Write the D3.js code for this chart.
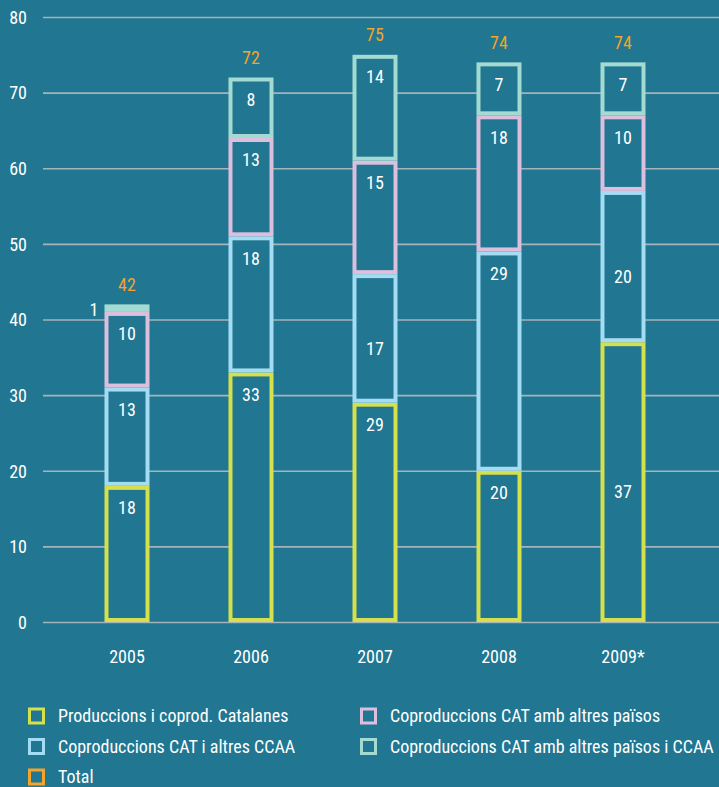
<!DOCTYPE html>
<html>
<head>
<meta charset="utf-8">
<script src="https://cdn.jsdelivr.net/npm/d3@7"></script>
<style>
  html, body { margin: 0; padding: 0; background: #217691; }
  svg { display: block; }
  text { font-family: "Liberation Sans Narrow", "Arial Narrow", "Roboto Condensed", "Liberation Sans", sans-serif; }
</style>
</head>
<body>
<svg id="chart" width="719" height="787"></svg>
<script>
// ---- data ----
const years = ["2005", "2006", "2007", "2008", "2009*"];
const catalanes = [18, 33, 29, 20, 37];
const ccaa = [13, 18, 17, 29, 20];
const paisos = [10, 13, 15, 18, 10];
const paisosCcaa = [1, 8, 14, 7, 7];
const totals = [42, 72, 75, 74, 74];
const yTicks = [0, 10, 20, 30, 40, 50, 60, 70, 80];
const seriesNames = ["Produccions i coprod. Catalanes", "Coproduccions CAT i altres CCAA",
  "Coproduccions CAT amb altres països", "Coproduccions CAT amb altres països i CCAA"];
const totalName = "Total";
// label placement style per series/year ("top", "mid", "left")
const labelPlace = [
  ["top", "top", "top", "top", "mid"],
  ["top", "top", "mid", "top", "mid"],
  ["top", "top", "top", "top", "top"],
  ["left", "top", "top", "top", "top"]
];

const bg = "#217691";
const colors = ["#d5e04c", "#a3dcf3", "#dcbfdc", "#a3dad1"];
const totalColor = "#f3a42a";

const svg = d3.select("#chart");
svg.append("rect").attr("width", 719).attr("height", 787).attr("fill", bg);

const x = d3.scaleBand().domain(years).range([65, 685]).paddingInner(0.637).paddingOuter(0.3185);
const y = d3.scaleLinear().domain([0, 80]).range([622, 17]);

// gridlines + tick labels
const yAxis = d3.axisLeft(y).tickValues(yTicks).tickSize(-676).tickPadding(16);
const gAxis = svg.append("g").attr("transform", "translate(43,0)").call(yAxis);
gAxis.select(".domain").remove();
gAxis.selectAll(".tick line").attr("stroke", "#a4b4ba").attr("stroke-width", 1.6);
gAxis.selectAll(".tick text").attr("fill", "#ffffff").attr("font-size", 18)
  .attr("x", -16).attr("dy", "0.35em");

// x axis labels
const xAxis = d3.axisBottom(x).tickSize(0).tickPadding(0);
const gx = svg.append("g").attr("transform", "translate(0,657)").call(xAxis);
gx.select(".domain").remove();
gx.selectAll(".tick text").attr("fill", "#ffffff").attr("font-size", 18).attr("dy", "0.35em");

// stacked data
const rows = years.map((yr, i) => ({ year: yr, s0: catalanes[i], s1: ccaa[i], s2: paisos[i], s3: paisosCcaa[i] }));
const stack = d3.stack().keys(["s0", "s1", "s2", "s3"])(rows);

const sw = 4;
stack.forEach((layer, li) => {
  const g = svg.append("g");
  layer.forEach((d, i) => {
    const x0 = x(years[i]);
    const w = x.bandwidth();
    const top = y(d[1]);
    const bot = y(d[0]);
    g.append("rect")
      .attr("x", x0 + sw / 2).attr("y", top + sw / 2)
      .attr("width", w - sw).attr("height", Math.max(0, bot - top - sw))
      .attr("fill", bg).attr("stroke", colors[li]).attr("stroke-width", sw);
    const val = d[1] - d[0];
    const place = labelPlace[li][i];
    const t = g.append("text").attr("fill", "#ffffff").attr("font-size", 18).text(val);
    if (place === "left") {
      t.attr("x", x0 - 6).attr("y", (top + bot) / 2 + 2).attr("dy", "0.35em").attr("text-anchor", "end");
    } else if (place === "mid") {
      t.attr("x", x0 + w / 2).attr("y", (top + bot) / 2 + 10).attr("dy", "0.35em").attr("text-anchor", "middle");
    } else {
      t.attr("x", x0 + w / 2).attr("y", top + 22).attr("dy", "0.35em").attr("text-anchor", "middle");
    }
  });
});

// totals
svg.append("g").selectAll("text").data(totals).join("text")
  .attr("x", (d, i) => x(years[i]) + x.bandwidth() / 2)
  .attr("y", d => y(d) - 20)
  .attr("dy", "0.35em")
  .attr("text-anchor", "middle")
  .attr("fill", totalColor).attr("font-size", 18)
  .text(d => d);

// legend
const legendItems = seriesNames.map((n, i) => ({ name: n, color: colors[i] }))
  .concat([{ name: totalName, color: totalColor }]);
const legendPos = [[0, 0], [0, 1], [1, 0], [1, 1], [0, 2]];
const lg = svg.append("g");
legendItems.forEach((it, i) => {
  const [col, row] = legendPos[i];
  const lx = col === 0 ? 28 : 360;
  const ly = 716 + row * 30.5;
  lg.append("rect").attr("x", lx + 1.5).attr("y", ly - 7).attr("width", 14).attr("height", 14)
    .attr("fill", "none").attr("stroke", it.color).attr("stroke-width", 3);
  lg.append("text").attr("x", lx + 30).attr("y", ly).attr("dy", "0.35em")
    .attr("fill", "#ffffff").attr("font-size", 18).text(it.name);
});
</script>
</body>
</html>
